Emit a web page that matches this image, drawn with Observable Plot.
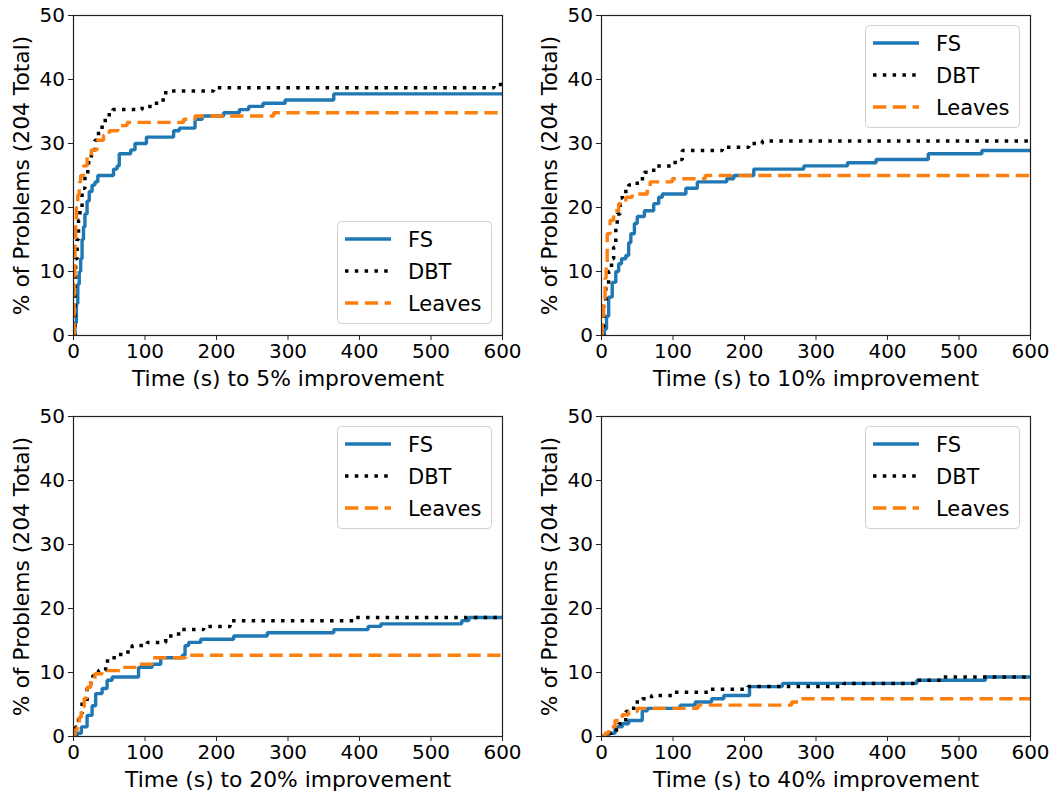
<!DOCTYPE html>
<html><head><meta charset="utf-8">
<script src="https://cdn.jsdelivr.net/npm/d3@7"></script>
<script src="https://cdn.jsdelivr.net/npm/@observablehq/plot@0.6"></script>
<style>
html,body{margin:0;padding:0;background:#fff;}
#root{position:relative;width:1053px;height:792px;overflow:hidden;background:#fff;}
.panel{position:absolute;}
</style></head><body><div id="root"></div>
<script>
// ---- data (time in s, % of 204 problems) ----
const xTicks = [0, 100, 200, 300, 400, 500, 600];
const yTicks = [0, 10, 20, 30, 40, 50];
const seriesNames = ["FS", "DBT", "Leaves"];
const xLabels = ["Time (s) to 5% improvement", "Time (s) to 10% improvement",
                 "Time (s) to 20% improvement", "Time (s) to 40% improvement"];
const yLabel = "% of Problems (204 Total)";

const fs5 = [[0,0],[2,2],[4,5],[6,8],[8,10],[10,12],[12,15],[14,17],[16,19],[19,21],[22,22.5],[26,23.5],[30,24],[34,25],[56,26],[61,26.5],[64,28.4],[80,29],[86,30],[102,31],[140,32],[148,32.4],[170,33.8],[180,34.3],[210,34.8],[232,35.3],[245,35.8],[265,36.3],[296,36.8],[364,37.75],[600,37.75]];
const dbt5 = [[0,0],[2,8],[3,12],[5,15],[7,18],[9,20],[12,23],[16,25],[20,27],[25,29],[30,30.5],[35,32],[40,33.6],[47,34.5],[55,35.3],[96,35.8],[112,36.3],[121,36.8],[129,38.2],[196,38.7],[588,39.2],[600,39.2]];
const lv5 = [[0,0],[1,8],[2,14],[3,18],[4,20],[6,22],[8,24],[10,25],[14,26.5],[19,27.8],[25,29],[33,30.5],[42,31.3],[50,32],[62,32.8],[75,33.3],[154,33.8],[170,34.3],[280,34.8],[600,34.8]];

const fs10 = [[0,0],[4,1],[7,3],[10,6],[15,8.3],[20,10],[24,11.2],[28,12],[34,12.5],[38,14.5],[41,15.9],[46,17.5],[50,18.6],[60,19.5],[73,20.6],[80,21.6],[85,22.1],[118,23],[134,24],[175,24.5],[185,25],[213,26],[283,26.5],[344,27],[384,27.5],[457,28.4],[532,28.9],[600,28.9]];
const dbt10 = [[0,0],[3,5],[6,8],[10,10],[14,12],[17,13.8],[20,17],[22,19],[26,21.5],[29,22.5],[38,23.5],[50,24.5],[60,25.5],[73,26.5],[103,27.5],[113,28.9],[169,29.4],[206,30],[225,30.4],[600,30.4]];
const lv10 = [[0,0],[1,3],[3,5.5],[5,9],[6.5,11.2],[8,15.9],[12,18],[17,19.5],[24,20.6],[34,21.6],[43,22.1],[64,23],[68,24],[99,24.5],[145,25],[600,25]];

const fs20 = [[0,0],[5,0.5],[11,1.5],[19,3.3],[26,4.8],[31,6.7],[40,7.5],[47,8.8],[54,9.3],[91,10.8],[110,11.3],[122,12.3],[152,12.7],[156,14.2],[161,14.7],[178,15.2],[224,15.7],[271,16.2],[364,16.7],[412,17.2],[430,17.6],[543,18.1],[553,18.6],[600,18.6]];
const dbt20 = [[0,0],[3,1.5],[7,3.6],[12,5.5],[19,8.3],[27,9.5],[35,10.3],[45,11.8],[54,12.3],[66,13.2],[82,14.2],[103,14.7],[129,15.7],[147,16.7],[182,17.2],[219,18.1],[392,18.6],[600,18.6]];
const lv20 = [[0,0],[2,1],[5,1.5],[8,3],[11,4.6],[15,6],[19,7.7],[24,9],[30,9.8],[40,10.3],[66,10.8],[91,11.3],[110,12.3],[157,12.7],[600,12.7]];

const fs40 = [[0,0],[10,0.5],[19,1.5],[29,2],[38,2.5],[57,4],[64,4.4],[110,4.9],[131,5.4],[154,5.9],[171,6.4],[207,7.8],[253,8.3],[441,8.8],[537,9.3],[600,9.3]];
const dbt40 = [[0,0],[5,0.5],[14,1],[24,2],[34,3.9],[45,5.4],[57,5.9],[70,6.4],[99,6.9],[152,7.4],[205,7.8],[339,8.3],[441,8.8],[478,9.3],[600,9.3]];
const lv40 = [[0,0],[5,0.5],[10,1.5],[19,2.5],[29,3.4],[38,3.9],[50,4.4],[135,4.9],[266,5.4],[276,5.9],[600,5.9]];

// ---- styles / layout ----
const seriesStyles = [
  {stroke: "#1f77b4", width: 3.4, dash: null},
  {stroke: "#000000", width: 3.5, dash: "3.5,6.3"},
  {stroke: "#ff7f0e", width: 3.4, dash: "13.3,6.5"}
];
const panels = [
  {series: [fs5, dbt5, lv5], xLabel: xLabels[0], legend: "lower", left: 0, top: 0, width: 526, height: 396, mr: 24, mb: 61},
  {series: [fs10, dbt10, lv10], xLabel: xLabels[1], legend: "upper", left: 528, top: 0, width: 525, height: 396, mr: 23, mb: 61},
  {series: [fs20, dbt20, lv20], xLabel: xLabels[2], legend: "upper", left: 0, top: 401, width: 526, height: 391, mr: 24, mb: 56},
  {series: [fs40, dbt40, lv40], xLabel: xLabels[3], legend: "upper", left: 528, top: 401, width: 525, height: 391, mr: 23, mb: 56}
];
const FONT = "DejaVu Sans";
const root = document.getElementById("root");

for (const p of panels) {
  const lineMarks = p.series.map((data, i) => Plot.line(data, {
    x: d => d[0], y: d => d[1], curve: "step-after",
    stroke: seriesStyles[i].stroke, strokeWidth: seriesStyles[i].width,
    strokeDasharray: seriesStyles[i].dash, strokeLinecap: "butt", strokeLinejoin: "miter",
    clip: "frame"
  }));
  const svg = Plot.plot({
    width: p.width, height: p.height,
    marginLeft: 73, marginRight: p.mr, marginTop: 15, marginBottom: p.mb,
    style: {fontFamily: FONT, fontSize: "20px", color: "#000", background: "transparent", overflow: "visible"},
    x: {domain: [0, 600]},
    y: {domain: [0, 50]},
    marks: [
      ...lineMarks,
      Plot.frame({stroke: "#222", strokeWidth: 1.2}),
      Plot.axisX({ticks: xTicks, tickSize: 5, tickPadding: 3.5, fontSize: 20, tickFormat: d => String(d),
        label: p.xLabel, labelAnchor: "center", labelOffset: 50, labelArrow: false, stroke: "#222"}),
      Plot.axisY({ticks: yTicks, tickSize: 5, tickPadding: 3.5, fontSize: 20, tickFormat: d => String(d),
        label: yLabel, labelAnchor: "center", labelOffset: 60, labelArrow: false, stroke: "#222"})
    ]
  });
  // larger axis titles
  d3.select(svg).selectAll('g[aria-label="x-axis label"], g[aria-label="y-axis label"]')
    .attr("font-size", 21.8).style("font-size", "21.8px");
  // legend
  const g = d3.select(svg).append("g").attr("font-family", FONT).attr("font-size", 21)
    .attr("text-anchor", "start");
  const by = p.legend === "upper" ? 25 : 221;
  g.append("rect").attr("x", 337.5).attr("y", by + 0.5).attr("width", 154).attr("height", 102)
    .attr("rx", 4).attr("fill", "#fff").attr("fill-opacity", 0.8).attr("stroke", "#d0d0d0").attr("stroke-width", 1);
  seriesNames.forEach((name, i) => {
    const cy = by + 18 + i * 32;
    const s = seriesStyles[i];
    g.append("line").attr("x1", 345).attr("x2", 391).attr("y1", cy).attr("y2", cy)
      .attr("stroke", s.stroke).attr("stroke-width", s.width)
      .attr("stroke-dasharray", s.dash).attr("stroke-linecap", "butt");
    g.append("text").attr("x", 408).attr("y", cy + 7.5).attr("fill", "#000")
      .attr("text-anchor", "start").text(name);
  });
  const div = document.createElement("div");
  div.className = "panel";
  div.style.left = p.left + "px";
  div.style.top = p.top + "px";
  div.appendChild(svg);
  root.appendChild(div);
}
</script></body></html>
